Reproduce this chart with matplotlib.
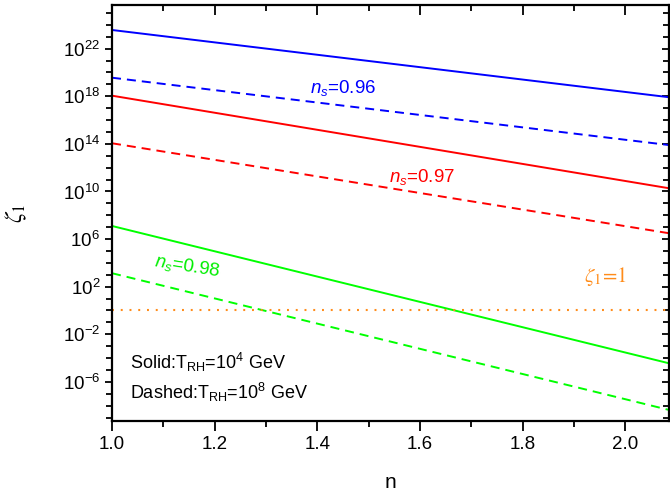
import numpy as np
import matplotlib
matplotlib.use("Agg")
import matplotlib.pyplot as plt
from matplotlib.ticker import FixedLocator, FuncFormatter, NullFormatter

plt.rcParams['font.family'] = ['Liberation Sans', 'DejaVu Sans']
plt.rcParams['mathtext.fontset'] = 'custom'
plt.rcParams['mathtext.rm'] = 'Liberation Sans'
plt.rcParams['mathtext.it'] = 'Liberation Sans:italic'
plt.rcParams['mathtext.bf'] = 'Liberation Sans:bold'
plt.rcParams['lines.scale_dashes'] = False

# data: n values at the two ends, log10(zeta_1)
n_vals = [1.0, 2.085]
log_blue_solid = [23.57, 17.92]
log_blue_dashed = [19.56, 13.90]
log_red_solid = [18.05, 10.27]
log_red_dashed = [14.05, 6.49]
log_green_solid = [7.10, -4.44]
log_green_dashed = [3.13, -8.36]
zeta_one = 1.0

x_ticks = [1.0, 1.2, 1.4, 1.6, 1.8, 2.0]
y_exponents = [-6, -2, 2, 6, 10, 14, 18, 22]

fig = plt.figure(figsize=(6.7, 4.96), dpi=100)
ax = fig.add_axes([112/670, 1 - 421/496, (669 - 112)/670, (421 - 5)/496])

n = np.array(n_vals)
solid = dict(lw=1.4, linestyle='-')
dash = dict(lw=1.4, dashes=(6.5, 4.3))
ax.plot(n, 10.0**np.array(log_blue_solid), color='#0000FF', **solid)
ax.plot(n, 10.0**np.array(log_blue_dashed), color='#0000FF', **dash)
ax.plot(n, 10.0**np.array(log_red_solid), color='#FF0000', **solid)
ax.plot(n, 10.0**np.array(log_red_dashed), color='#FF0000', **dash)
ax.plot(n, 10.0**np.array(log_green_solid), color='#00FF00', **solid)
ax.plot(n, 10.0**np.array(log_green_dashed), color='#00FF00', **dash)
ax.axhline(zeta_one, color='#FF8C1A', lw=1.5, dashes=(1.4, 4.9))

ax.set_yscale('log')
ax.set_xlim(1.0, 2.085)
ax.set_ylim(10.0**-9.29, 10.0**25.67)

ax.xaxis.set_major_locator(FixedLocator(x_ticks))
ax.xaxis.set_minor_locator(FixedLocator(np.arange(1.1, 2.1, 0.2)))
ax.xaxis.set_major_formatter(FuncFormatter(lambda v, p: f"{v:.1f}"))
ax.xaxis.set_minor_formatter(NullFormatter())
ax.yaxis.set_major_locator(FixedLocator([10.0**e for e in y_exponents]))
ax.yaxis.set_minor_locator(FixedLocator([10.0**e for e in range(-9, 26)]))
ax.yaxis.set_major_formatter(FuncFormatter(lambda v, p: r"$10^{%d}$" % round(np.log10(v))))
ax.yaxis.set_minor_formatter(NullFormatter())

ax.tick_params(axis='both', which='both', labelsize=13.5, width=1.3, colors='black')
ax.tick_params(axis='x', which='major', direction='out', length=7, top=True, pad=4)
ax.tick_params(axis='x', which='minor', direction='out', length=4, top=True)
ax.tick_params(axis='y', which='major', direction='out', length=5, right=True)
ax.tick_params(axis='y', which='minor', direction='out', length=4, right=True)
for t in ax.xaxis.get_major_ticks() + ax.xaxis.get_minor_ticks():
    t.tick2line.set_marker(3)
for t in ax.yaxis.get_major_ticks() + ax.yaxis.get_minor_ticks():
    t.tick2line.set_marker(0)
for s in ax.spines.values():
    s.set_linewidth(1.6)

ax.set_xlabel('n', fontsize=15, labelpad=14)
ax.set_ylabel(r'$\zeta_1$', fontsize=17, labelpad=24, math_fontfamily='stix')

ax.text(1.385, 10.0**18.3, r'$n_{s}$=0.96', color='#0000FF', fontsize=13.5)
ax.text(1.54, 10.0**10.8, r'$n_{s}$=0.97', color='#FF0000', fontsize=13.5)
ax.text(1.08, 10.0**2.9, r'$n_{s}$=0.98', color='#00EE00', fontsize=13.5, rotation=-9)
ax.text(1.92, 10.0**2.4, r'$\zeta_{1}\!=\!1$', color='#FF8C1A', fontsize=15,
        math_fontfamily='stix')
ax.text(1.035, 10.0**-4.9, r'Solid:T$_{\mathrm{RH}}$=10$^{4}$ GeV', fontsize=13)
ax.text(1.035, 10.0**-7.4, r'Dashed:T$_{\mathrm{RH}}$=10$^{8}$ GeV', fontsize=13)

fig.savefig('out.png', dpi=100)
